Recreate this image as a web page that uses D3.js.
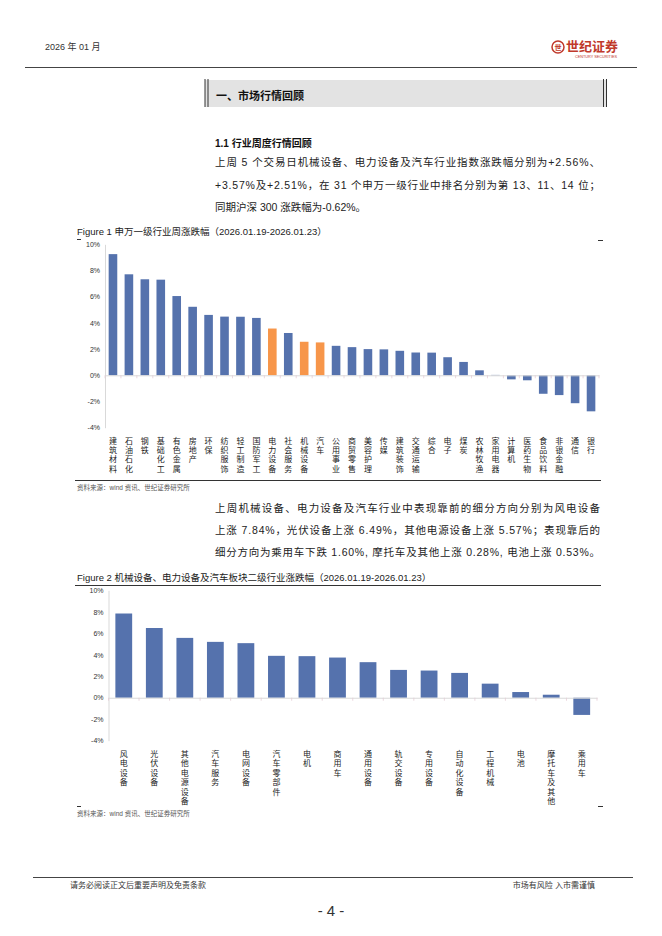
<!DOCTYPE html>
<html><head><meta charset="utf-8">
<script src="https://cdn.jsdelivr.net/npm/d3@7/dist/d3.min.js"></script>
<style>
html,body{margin:0;padding:0;background:#fff;}
svg{display:block;font-family:"Liberation Sans","Noto Sans CJK SC",sans-serif;}
</style></head>
<body>
<svg id="page" width="662" height="936"></svg>
<script>
// ---------- DATA ----------
const cat1 = ["建筑材料","石油石化","钢铁","基础化工","有色金属","房地产","环保","纺织服饰","轻工制造","国防军工","电力设备","社会服务","机械设备","汽车","公用事业","商贸零售","美容护理","传媒","建筑装饰","交通运输","综合","电子","煤炭","农林牧渔","家用电器","计算机","医药生物","食品饮料","非银金融","通信","银行"];
const val1 = [9.25,7.71,7.33,7.30,6.05,5.23,4.61,4.48,4.47,4.38,3.57,3.23,2.56,2.51,2.25,2.15,2.00,1.98,1.87,1.74,1.73,1.38,1.02,0.38,0.03,-0.31,-0.38,-1.41,-1.51,-2.13,-2.75];
const hl1 = ["电力设备","机械设备","汽车"];
const cat2 = ["风电设备","光伏设备","其他电源设备","汽车服务","电网设备","汽车零部件","电机","商用车","通用设备","轨交设备","专用设备","自动化设备","工程机械","电池","摩托车及其他","乘用车"];
const val2 = [7.84,6.49,5.57,5.20,5.08,3.90,3.87,3.74,3.31,2.59,2.53,2.31,1.31,0.53,0.28,-1.60];
const yTicks = [10,8,6,4,2,0,-2,-4];

const BLUE = "#5572ad", ORANGE = "#f7964a";
const svg = d3.select("#page");

// ---------- PAGE TEXT ----------
function txt(x,y,s,size,opts={}){
  const t = svg.append("text").attr("x",x).attr("y",y).attr("font-size",size)
    .attr("fill",opts.fill||"#222").text(s);
  if(opts.weight) t.attr("font-weight",opts.weight);
  if(opts.anchor) t.attr("text-anchor",opts.anchor);
  if(opts.len) t.attr("textLength",opts.len).attr("lengthAdjust","spacing");
  return t;
}
// header
txt(45,50,"2026 年 01 月",9,{fill:"#333"});
svg.append("line").attr("x1",25).attr("x2",637).attr("y1",67.5).attr("y2",67.5).attr("stroke","#444").attr("stroke-width",1);
// logo
svg.append("circle").attr("cx",558).attr("cy",47).attr("r",6).attr("fill","none").attr("stroke","#c0392b").attr("stroke-width",1.5);
txt(558,50,"世",7,{fill:"#c0392b",anchor:"middle",weight:"bold"});
txt(566,51,"世纪证券",13,{fill:"#c0392b",weight:"bold"});
txt(596,57.5,"CENTURY SECURITIES",3.8,{fill:"#c0392b",anchor:"middle"});

// section box
svg.append("rect").attr("x",205).attr("y",80).attr("width",402).attr("height",27).attr("fill","#e3e3e3");
[205,208,603.5,606.5].forEach(x=>svg.append("line").attr("x1",x).attr("x2",x).attr("y1",79).attr("y2",107).attr("stroke","#333").attr("stroke-width",1));
txt(216,100,"一、市场行情回顾",11,{weight:"bold",fill:"#111"});

txt(215,147,"1.1 行业周度行情回顾",10,{weight:"bold",fill:"#111"});
txt(215,166,"上周 5 个交易日机械设备、电力设备及汽车行业指数涨跌幅分别为+2.56%、",10.5,{len:385});
txt(215,189,"+3.57%及+2.51%，在 31 个申万一级行业中排名分别为第 13、11、14 位；",10.5,{len:385});
txt(215,211,"同期沪深 300 涨跌幅为-0.62%。",10.5);

txt(215,512,"上周机械设备、电力设备及汽车行业中表现靠前的细分方向分别为风电设备",10.5,{len:385});
txt(215,534,"上涨 7.84%，光伏设备上涨 6.49%，其他电源设备上涨 5.57%；表现靠后的",10.5,{len:385});
txt(215,556,"细分方向为乘用车下跌 1.60%, 摩托车及其他上涨 0.28%, 电池上涨 0.53%。",10.5,{len:385});

// footer
svg.append("line").attr("x1",33).attr("x2",633).attr("y1",877.5).attr("y2",877.5).attr("stroke","#444").attr("stroke-width",1);
txt(70,888,"请务必阅读正文后重要声明及免责条款",8,{fill:"#333"});
txt(595,888,"市场有风险 入市需谨慎",8,{fill:"#333",anchor:"end"});
txt(331,916,"- 4 -",15,{fill:"#333",anchor:"middle"});

// ---------- CHART FUNCTION ----------
function barChart(cfg){
  const y = d3.scaleLinear().domain([-4,10]).range([cfg.yBottom,cfg.yTop]);
  const x = d3.scaleBand().domain(cfg.cats).range([cfg.x0,cfg.x1]).paddingInner(cfg.pad).paddingOuter(cfg.pad/2);
  const g = svg.append("g");
  // y axis
  const ya = g.append("g").attr("transform",`translate(${cfg.x0},0)`)
    .call(d3.axisLeft(y).tickValues(yTicks).tickFormat(d=>d+"%").tickSize(0).tickPadding(5));
  ya.select(".domain").attr("stroke","#d9d9d9");
  ya.selectAll("text").attr("font-size",7).attr("fill","#333").attr("font-family","Liberation Sans");
  // bars
  g.selectAll("rect.bar").data(cfg.cats).join("rect").attr("class","bar")
    .attr("x",d=>x(d)).attr("width",x.bandwidth())
    .attr("y",(d,i)=>y(Math.max(0,cfg.vals[i])))
    .attr("height",(d,i)=>Math.abs(y(cfg.vals[i])-y(0)))
    .attr("fill",d=>cfg.hl.includes(d)?ORANGE:BLUE);
  // zero axis
  const xa = g.append("g").attr("transform",`translate(0,${y(0)})`)
    .call(d3.axisBottom(x).tickSize(0).tickFormat(""));
  xa.select(".domain").attr("stroke","#d9d9d9");
  const edges = cfg.cats.map(c=>x(c)-x.step()*x.paddingInner()/2).concat([cfg.x1]);
  g.selectAll("line.tk").data(edges).join("line").attr("class","tk")
    .attr("x1",d=>d).attr("x2",d=>d).attr("y1",y(0)).attr("y2",y(0)+3)
    .attr("stroke","#e5cdd5").attr("stroke-width",0.8);
  // vertical labels
  cfg.cats.forEach(c=>{
    const cx = x(c)+x.bandwidth()/2;
    Array.from(c).forEach((ch,k)=>{
      g.append("text").attr("x",cx).attr("y",cfg.labelY+k*cfg.labelStep)
        .attr("text-anchor","middle").attr("font-size",cfg.labelSize).attr("fill","#222").text(ch);
    });
  });
}

// Figure 1
txt(77,235,"Figure 1  申万一级行业周涨跌幅（2026.01.19-2026.01.23）",9.5,{fill:"#222"});
svg.append("line").attr("x1",77).attr("x2",81).attr("y1",239.5).attr("y2",239.5).attr("stroke","#333");
svg.append("line").attr("x1",598).attr("x2",603).attr("y1",240.5).attr("y2",240.5).attr("stroke","#333");
barChart({cats:cat1,vals:val1,hl:hl1,x0:105,x1:599,yTop:244.3,yBottom:427.7,pad:0.46,labelY:444,labelStep:9.2,labelSize:8});
svg.append("line").attr("x1",75).attr("x2",601).attr("y1",480.5).attr("y2",480.5).attr("stroke","#333").attr("stroke-width",1);
txt(77,490,"资料来源：wind 资讯、世纪证券研究所",6.5,{fill:"#555"});

// Figure 2
txt(77,581,"Figure 2  机械设备、电力设备及汽车板块二级行业涨跌幅（2026.01.19-2026.01.23）",9.5,{fill:"#222"});
svg.append("line").attr("x1",75).attr("x2",601).attr("y1",585.5).attr("y2",585.5).attr("stroke","#333").attr("stroke-width",1);
barChart({cats:cat2,vals:val2,hl:[],x0:108.5,x1:597,yTop:590.3,yBottom:740.7,pad:0.45,labelY:757,labelStep:9.4,labelSize:8});
svg.append("line").attr("x1",77).attr("x2",81).attr("y1",806.5).attr("y2",806.5).attr("stroke","#333");
svg.append("line").attr("x1",598).attr("x2",603).attr("y1",806.5).attr("y2",806.5).attr("stroke","#333");
txt(77,816,"资料来源：wind 资讯、世纪证券研究所",6.5,{fill:"#555"});
</script>
</body></html>
